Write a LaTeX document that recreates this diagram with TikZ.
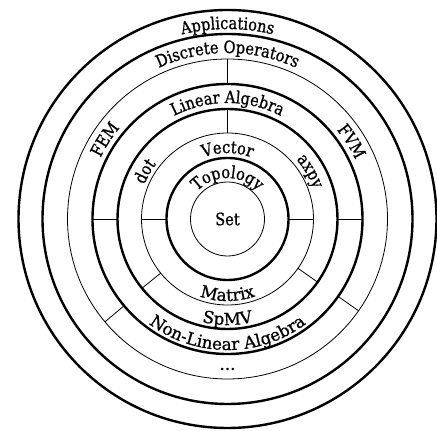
\documentclass[tikz,border=0pt]{standalone}
\usepackage{fontspec}
\newfontfamily\ringfam[FakeBold=0.9,FakeStretch=0.86]{DejaVu Serif}
\newfontfamily\lowfam[FakeBold=0.9]{DejaVu Serif}
\newcommand\ringfont{\ringfam\fontsize{17}{20}\selectfont}
\newcommand\lowfont{\lowfam\fontsize{16.8}{20}\selectfont}
\usetikzlibrary{decorations.text}
\tikzset{
  thickring/.style={line width=2.4pt},
  thinring/.style={line width=0.8pt},
  divider/.style={line width=0.8pt},
  arctext/.style={decorate, decoration={text along path, text align=center, text={|\ringfont|#1}}},
  lowtext/.style={decorate, decoration={text along path, text align=center, text={|\lowfont|#1}}},
}
\begin{document}
\begin{tikzpicture}[x=1pt,y=1pt]
\useasboundingbox (0,0) rectangle (437,431);
\coordinate (c) at (227.5,212);
\begin{scope}[shift={(c)}]
  % rings
  \draw[thickring] (0,0) circle[radius=209];
  \draw[thickring] (0,0) circle[radius=185];
  \draw[thinring]  (0,0) circle[radius=160];
  \draw[thickring] (0,0) circle[radius=135];
  \draw[thickring] (0,0) circle[radius=110];
  \draw[thinring]  (0,0) circle[radius=86];
  \draw[thickring] (0,0) circle[radius=61];
  \draw[thinring]  (0,0) circle[radius=37];
  % dividers
  \draw[divider] (90:135) -- (90:160);
  \draw[divider] (220:135) -- (220:160);
  \draw[divider] (325:135) -- (325:160);
  \draw[divider] (0:110) -- (0:135);
  \draw[divider] (180:110) -- (180:135);
  \draw[divider] (90:86) -- (90:110);
  \draw[divider] (219:86) -- (219:110);
  \draw[divider] (325:86) -- (325:110);
  \draw[divider] (0:61) -- (0:86);
  \draw[divider] (180:61) -- (180:86);
  % top texts (clockwise)
  \path[arctext=Applications] (180:190) arc[start angle=180,end angle=0,radius=190];
  \path[arctext=Discrete Operators] (180:166) arc[start angle=180,end angle=0,radius=166];
  \path[arctext=Linear Algebra] (180:116) arc[start angle=180,end angle=0,radius=116];
  \path[arctext=Vector] (180:66) arc[start angle=180,end angle=0,radius=66];
  \path[arctext=Topology] (180:41) arc[start angle=180,end angle=0,radius=41];
  \path[arctext=dot] (180:90) arc[start angle=180,end angle=120,radius=90];
  \path[arctext=axpy] (60:91) arc[start angle=60,end angle=0,radius=91];
  \path[arctext=FEM] (177:141) arc[start angle=177,end angle=117,radius=141];
  \path[arctext=FVM] (62:141) arc[start angle=62,end angle=2,radius=141];
  % bottom texts (counter-clockwise)
  \path[lowtext=Matrix] (180:82) arc[start angle=180,end angle=360,radius=82];
  \path[lowtext=SpMV] (180:106) arc[start angle=180,end angle=360,radius=106];
  \path[lowtext=Non-Linear Algebra] (180:131) arc[start angle=180,end angle=360,radius=131];
  \node (set) at (0,0) {\ringfont Set};
  \node[inner sep=0pt] (dots) at (270:150) {\lowfont ...};
\end{scope}
\end{tikzpicture}
\end{document}
